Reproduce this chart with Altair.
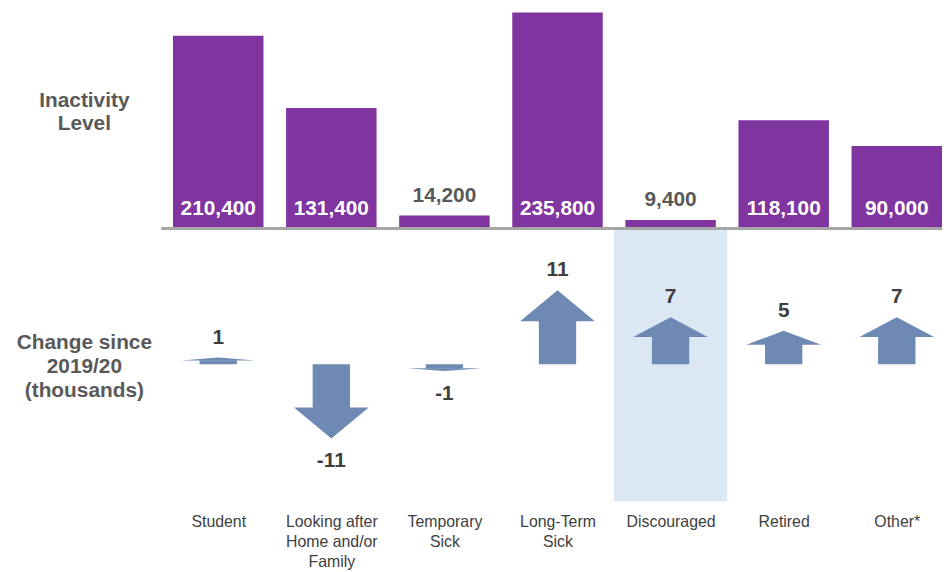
import json
import altair as alt
import pandas as pd

# ---- data ----
categories = ["Student", "Looking after Home and/or Family", "Temporary Sick",
              "Long-Term Sick", "Discouraged", "Retired", "Other*"]
label_lines = [["Student"], ["Looking after", "Home and/or", "Family"],
               ["Temporary", "Sick"], ["Long-Term", "Sick"], ["Discouraged"],
               ["Retired"], ["Other*"]]
levels = [210400, 131400, 14200, 235800, 9400, 118100, 90000]
changes = [1, -11, -1, 11, 7, 5, 7]
highlight = "Discouraged"
row_titles = [["Inactivity", "Level"], ["Change since", "2019/20", "(thousands)"]]

df = pd.DataFrame({"cat": categories, "idx": list(range(len(categories))),
                   "level": levels, "change": changes})
df["change_txt"] = [str(c) for c in changes]

# arrow-head vertex template (left corner, tip, right corner)
vertex = pd.DataFrame({"k": [-1, 0, 1]})
heads = df.merge(vertex, how="cross")

# ---- layout / style ----
W, H = 787, 493
BASE_PX = 218          # pixel of the level baseline inside plot
ARROW_ZERO_PX = 355    # pixel of zero change inside plot
PX_PER_K = 6.8
PURPLE = "#7F349F"
BLUE = "#6E89B3"
BAND = "#DCE7F4"
FONT = "Liberation Sans"

x_scale = alt.Scale(domain=[-0.5, 6.4], nice=False, zero=False)
top_scale = alt.Scale(domain=[-max(levels) * (H - BASE_PX) / BASE_PX, max(levels)],
                      nice=False, zero=False)
arrow_scale = alt.Scale(domain=[-(H - ARROW_ZERO_PX) / PX_PER_K, ARROW_ZERO_PX / PX_PER_K],
                        nice=False, zero=False)

xaxis = alt.Axis(values=list(range(len(categories))),
                 labelExpr=f"{json.dumps(label_lines)}[datum.value]",
                 title=None, domain=False, ticks=False, grid=False,
                 labelFont=FONT, labelFontSize=16, labelColor="#404040",
                 labelPadding=13, labelLineHeight=20, labelFlush=False,
                 labelOverlap=False, labelBound=False, labelBaseline="top")

base = alt.Chart(df)

band = base.transform_filter(alt.datum.cat == highlight).transform_calculate(
    x0="datum.idx - 0.5", x1="datum.idx + 0.5"
).mark_rect(color=BAND).encode(
    x=alt.X("x0:Q", scale=x_scale, axis=xaxis), x2="x1:Q",
    y=alt.value(BASE_PX), y2=alt.value(H))

bars = base.transform_calculate(
    x0="datum.idx - 0.4", x1="datum.idx + 0.4"
).mark_rect(color=PURPLE).encode(
    x=alt.X("x0:Q", scale=x_scale, axis=xaxis), x2="x1:Q",
    y=alt.Y("level:Q", scale=top_scale, axis=None), y2=alt.datum(0))

baseline = base.mark_rule(color="#A6A6A6", strokeWidth=2).encode(
    x=alt.value(0), x2=alt.value(W), y=alt.value(BASE_PX))

bar_labels = base.transform_calculate(
    ly="datum.level >= 30000 ? 0 : datum.level"
).mark_text(font=FONT, fontSize=21, fontWeight="bold", dy=-20, baseline="middle").encode(
    x=alt.X("idx:Q", scale=x_scale, axis=xaxis),
    y=alt.Y("ly:Q", scale=top_scale, axis=None),
    text=alt.Text("level:Q", format=","),
    color=alt.condition("datum.level >= 30000", alt.value("white"), alt.value("#595959")))

# shaft runs slightly into the head so no seam shows
shaft = base.transform_calculate(
    x0="datum.idx - 0.165", x1="datum.idx + 0.165", hb="datum.change * 0.62"
).mark_rect(color=BLUE).encode(
    x=alt.X("x0:Q", scale=x_scale, axis=xaxis), x2="x1:Q",
    y=alt.Y("hb:Q", scale=arrow_scale, axis=None), y2=alt.datum(0))

head = alt.Chart(heads).transform_calculate(
    hx="datum.idx + datum.k * 0.33",
    hy="datum.k == 0 ? datum.change : datum.change * 0.58",
    hb="datum.change * 0.58"
).mark_area(color=BLUE, opacity=1, interpolate="linear").encode(
    x=alt.X("hx:Q", scale=x_scale, axis=xaxis),
    y=alt.Y("hy:Q", scale=arrow_scale, axis=None, stack=None), y2="hb:Q",
    detail="cat:N")

pos_labels = base.transform_filter("datum.change > 0").mark_text(
    font=FONT, fontSize=21, fontWeight="bold", color="#3F3F3F", dy=-20, baseline="middle"
).encode(x=alt.X("idx:Q", scale=x_scale, axis=xaxis),
         y=alt.Y("change:Q", scale=arrow_scale, axis=None), text="change_txt:N")

neg_labels = base.transform_filter("datum.change < 0").mark_text(
    font=FONT, fontSize=21, fontWeight="bold", color="#3F3F3F", dy=23, baseline="middle"
).encode(x=alt.X("idx:Q", scale=x_scale, axis=xaxis),
         y=alt.Y("change:Q", scale=arrow_scale, axis=None), text="change_txt:N")

one = alt.Chart(pd.DataFrame({"r": [0]}))
title_top = one.mark_text(font=FONT, fontSize=21, fontWeight="bold", color="#595959",
                          align="center", baseline="middle", lineHeight=24).encode(
    x=alt.value(-78), y=alt.value(89), text=alt.value(row_titles[0]))
title_bottom = one.mark_text(font=FONT, fontSize=21, fontWeight="bold", color="#595959",
                             align="center", baseline="middle", lineHeight=24).encode(
    x=alt.value(-78), y=alt.value(334), text=alt.value(row_titles[1]))

chart = alt.layer(band, bars, baseline, bar_labels, shaft, head, pos_labels, neg_labels,
                  title_top, title_bottom).resolve_scale(y="independent").properties(
    width=W, height=H, padding={"left": 8, "top": 2, "right": 0, "bottom": 0}
).configure_view(stroke=None)

chart.save("out.html", embed_options={"renderer": "svg", "actions": False})
